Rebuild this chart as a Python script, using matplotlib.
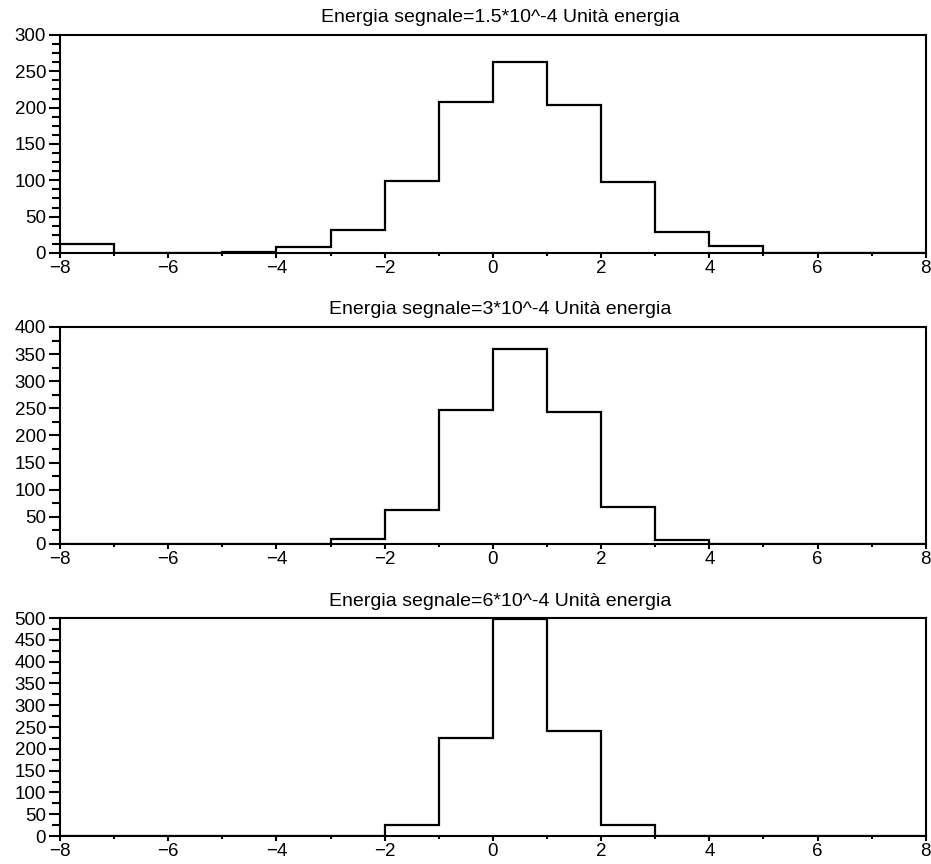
import matplotlib
matplotlib.use("Agg")
import matplotlib.pyplot as plt
from matplotlib.ticker import MultipleLocator
import numpy as np

# bordi delle classi e conteggi per i tre livelli di energia
bin_edges = np.arange(-8, 9, 1)
counts_15 = [13, 0, 0, 2, 8, 32, 99, 208, 263, 203, 97, 29, 10, 0, 0, 0]
counts_3 = [0, 0, 0, 0, 0, 10, 63, 247, 359, 244, 69, 7, 0, 0, 0, 0]
counts_6 = [0, 0, 0, 0, 0, 0, 26, 225, 497, 240, 26, 0, 0, 0, 0, 0]

titles = [
    "Energia segnale=1.5*10^-4 Unità energia",
    "Energia segnale=3*10^-4 Unità energia",
    "Energia segnale=6*10^-4 Unità energia",
]
y_max = [300, 400, 500]
y_minor = [12.5, 25, 25]

plt.rcParams['font.family'] = ['Liberation Sans', 'DejaVu Sans']

fig = plt.figure(figsize=(9.31, 8.64), dpi=100)

# posizioni dei pannelli [left, bottom, width, height]
boxes = [
    [0.0644, 0.7072, 0.930, 0.2523],
    [0.0644, 0.3704, 0.930, 0.2512],
    [0.0644, 0.0324, 0.930, 0.2523],
]

for box, counts, title, ymax, ymin_step in zip(boxes, [counts_15, counts_3, counts_6],
                                               titles, y_max, y_minor):
    ax = fig.add_axes(box)
    ax.stairs(counts, bin_edges, color='black', linewidth=1.6)
    ax.set_xlim(-8, 8)
    ax.set_ylim(0, ymax)
    ax.xaxis.set_major_locator(MultipleLocator(2))
    ax.xaxis.set_minor_locator(MultipleLocator(1))
    ax.yaxis.set_major_locator(MultipleLocator(50))
    ax.yaxis.set_minor_locator(MultipleLocator(ymin_step))
    for s in ax.spines.values():
        s.set_linewidth(1.5)
    ax.tick_params(axis='y', which='major', direction='out', length=8, width=1.5,
                   pad=2, labelsize=13.5)
    ax.tick_params(axis='y', which='minor', direction='out', length=5.5, width=1.5)
    ax.tick_params(axis='x', which='major', direction='out', length=3.5, width=1.5,
                   pad=1.5, labelsize=13.5)
    ax.tick_params(axis='x', which='minor', direction='out', length=2, width=1.5)
    ax.set_title(title, x=0.509, pad=9, fontsize=14)

fig.savefig("out.png", dpi=100)
